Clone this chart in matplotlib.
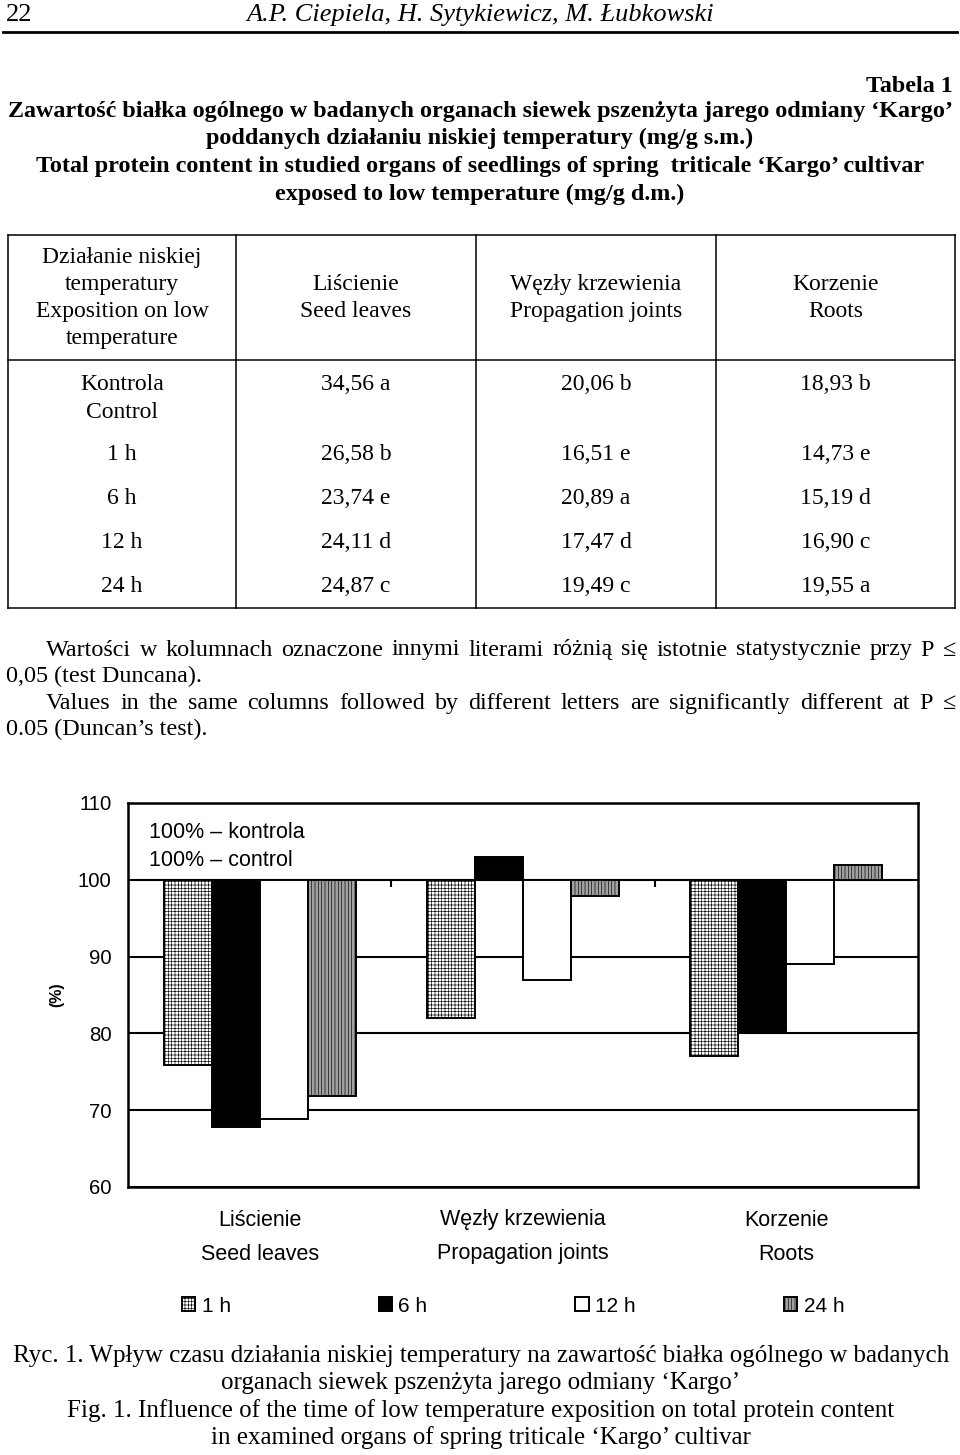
import matplotlib
matplotlib.use('Agg')
import matplotlib.pyplot as plt
from matplotlib.lines import Line2D
import numpy as np

plt.rcParams['hatch.linewidth'] = 0.45
plt.rcParams['font.family'] = ['Liberation Sans', 'DejaVu Sans']

W, H = 960, 1455
SERIF = ['Liberation Serif', 'DejaVu Serif']

# table data
table_header = [['Działanie niskiej', 'temperatury', 'Exposition on low', 'temperature'],
                ['Liścienie', 'Seed leaves'],
                ['Węzły krzewienia', 'Propagation joints'],
                ['Korzenie', 'Roots']]
row_labels = [['Kontrola', 'Control'], ['1 h'], ['6 h'], ['12 h'], ['24 h']]
seed_leaves = ['34,56 a', '26,58 b', '23,74 e', '24,11 d', '24,87 c']
prop_joints = ['20,06 b', '16,51 e', '20,89 a', '17,47 d', '19,49 c']
roots = ['18,93 b', '14,73 e', '15,19 d', '16,90 c', '19,55 a']

# chart data, % of control
organs_pl = ['Liścienie', 'Węzły krzewienia', 'Korzenie']
organs_en = ['Seed leaves', 'Propagation joints', 'Roots']
times = ['1 h', '6 h', '12 h', '24 h']
pct_1h = [75.9, 82.0, 77.0]
pct_6h = [67.8, 103.0, 80.0]
pct_12h = [68.9, 86.9, 89.0]
pct_24h = [71.9, 97.9, 101.9]

fig = plt.figure(figsize=(W / 100, H / 100), dpi=100)


def px(x, y):
    return x / W, 1 - y / H


def ftext(x, y, s, **kw):
    kw.setdefault('va', 'center')
    return fig.text(*px(x, y), s, **kw)


def fline(x0, y0, x1, y1, lw=1.0):
    (a, b), (c, d) = px(x0, y0), px(x1, y1)
    fig.add_artist(Line2D([a, c], [b, d], color='black', lw=lw))


def justify(line, x0, x1, y, **kw):
    words = line.split()
    r = fig.canvas.get_renderer()
    texts = [ftext(0, y, w, ha='left', **kw) for w in words]
    widths = [t.get_window_extent(r).width for t in texts]
    gap = (x1 - x0 - sum(widths)) / (len(words) - 1)
    x = x0
    for t, w in zip(texts, widths):
        t.set_position(px(x, y))
        x += w + gap


# page header
ftext(6, 15, '22', family=SERIF, fontsize=19, ha='left')
ftext(480, 15, 'A.P. Ciepiela, H. Sytykiewicz, M. Łubkowski', family=SERIF,
      style='italic', fontsize=19, ha='center')
fline(3, 32, 957, 32, lw=2)

# table title
ftext(953, 86, 'Tabela 1', family=SERIF, weight='bold', fontsize=17.4, ha='right')
title = ['Zawartość białka ogólnego w badanych organach siewek pszenżyta jarego odmiany ‘Kargo’',
         'poddanych działaniu niskiej temperatury (mg/g s.m.)',
         'Total protein content in studied organs of seedlings of spring  triticale ‘Kargo’ cultivar',
         'exposed to low temperature (mg/g d.m.)']
for i, s in enumerate(title):
    ftext(480, 111 + i * 27.7, s, family=SERIF, weight='bold', fontsize=17.4, ha='center')

# table
col_x = [8, 236, 476, 716, 955]
t_top, t_sep, t_bot = 235, 360, 608
for cx in col_x:
    fline(cx, t_top, cx, t_bot, lw=1.1)
for yy in (t_top, t_sep, t_bot):
    fline(col_x[0], yy, col_x[-1], yy, lw=1.1)
centers = [(a + b) / 2 for a, b in zip(col_x[:-1], col_x[1:])]
for cx, lines in zip(centers, table_header):
    n = len(lines)
    for i, s in enumerate(lines):
        ftext(cx, 298 + (i - (n - 1) / 2) * 27, s, family=SERIF, fontsize=17, ha='center')
row_y = [385, 455, 498, 543, 587]
for ry, lab, a, b, c in zip(row_y, row_labels, seed_leaves, prop_joints, roots):
    for i, s in enumerate(lab):
        ftext(centers[0], ry + i * 27, s, family=SERIF, fontsize=17, ha='center')
    for cx, s in zip(centers[1:], (a, b, c)):
        ftext(cx, ry, s, family=SERIF, fontsize=17, ha='center')

# note under table
justify('Wartości w kolumnach oznaczone innymi literami różnią się istotnie statystycznie przy P ≤',
        46, 956, 650, family=SERIF, fontsize=17.4)
ftext(6, 676, '0,05 (test Duncana).', family=SERIF, fontsize=17.4, ha='left')
justify('Values in the same columns followed by different letters are significantly different  at P ≤',
        46, 956, 703, family=SERIF, fontsize=17.4)
ftext(6, 729, '0.05 (Duncan’s test).', family=SERIF, fontsize=17.4, ha='left')

# chart
ax_l, ax_r, ax_t, ax_b = 128, 918, 803, 1187
ax = fig.add_axes([ax_l / W, 1 - ax_b / H, (ax_r - ax_l) / W, (ax_b - ax_t) / H])
x = np.arange(len(organs_pl))
bw = 0.182
series = [pct_1h, pct_6h, pct_12h, pct_24h]
styles = [dict(facecolor='white', hatch='+++++'),
          dict(facecolor='black'),
          dict(facecolor='white'),
          dict(facecolor='#a0a0a0', hatch='|||||')]
for i, (vals, st) in enumerate(zip(series, styles)):
    ax.bar(x + (i - 1.5) * bw, np.array(vals) - 100, bw, bottom=100,
           edgecolor='black', linewidth=1.4, label=times[i], zorder=3, **st)

ax.set_xlim(-0.5, 2.5)
ax.set_ylim(60, 110)
ax.set_yticks(np.arange(60, 111, 10))
ax.set_xticks([])
ax.yaxis.grid(True, color='black', linewidth=1.5)
ax.set_axisbelow(True)
ax.tick_params(axis='y', length=0, pad=12, labelsize=14.7)
for sp in ax.spines.values():
    sp.set_linewidth(1.8)
ax.vlines(x[:-1] + 0.5, 99, 100, color='black', lw=1.5, zorder=2)

for xi, pl, en in zip(x, organs_pl, organs_en):
    ax.text(xi, (ax_b - 1220) / (ax_b - ax_t), pl, transform=ax.get_xaxis_transform(),
            ha='center', va='center', fontsize=15.5)
    ax.text(xi, (ax_b - 1254) / (ax_b - ax_t), en, transform=ax.get_xaxis_transform(),
            ha='center', va='center', fontsize=15.5)

ftext(149, 832, '100% – kontrola', fontsize=15.5, ha='left')
ftext(149, 860, '100% – control', fontsize=15.5, ha='left')
ftext(57, 995, '(%)', fontsize=11.5, weight='bold', rotation=90, ha='center')

handles, labels = ax.get_legend_handles_labels()
fig.legend(handles, labels, loc='center', bbox_to_anchor=px(513, 1306), ncol=4,
           frameon=False, fontsize=15, handlelength=0.65, handleheight=0.65,
           handletextpad=0.3, columnspacing=7.1)

# caption
caption = ['Ryc. 1. Wpływ czasu działania niskiej temperatury na zawartość białka ogólnego w badanych',
           'organach siewek pszenżyta jarego odmiany ‘Kargo’',
           'Fig. 1. Influence of the time of low temperature exposition on total protein content',
           'in examined organs of spring triticale ‘Kargo’ cultivar']
for i, s in enumerate(caption):
    ftext(481, 1356 + i * 27.3, s, family=SERIF, fontsize=18, ha='center')

fig.savefig('out.png', dpi=100)
